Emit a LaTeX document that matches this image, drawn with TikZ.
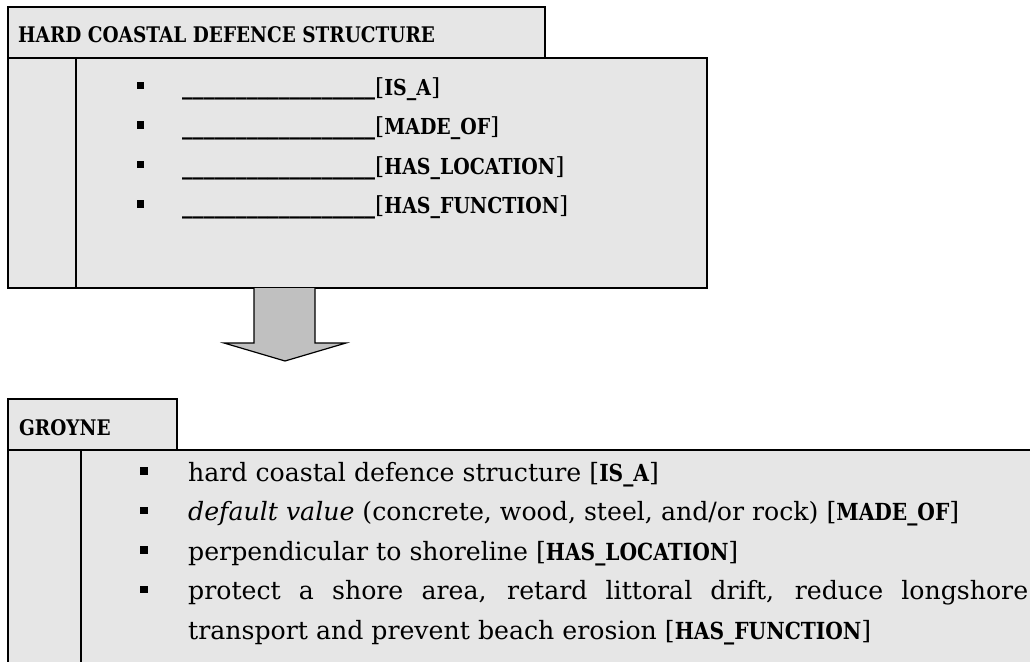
\documentclass[tikz,border=0pt]{standalone}
\usepackage{fontspec}
\setmainfont{DejaVu Serif}
% narrower bold face for headings and relation labels
\newfontfamily\lblfont{DejaVu Serif}[FakeStretch=0.86]
\usepackage{graphicx}
\usetikzlibrary{calc}
\definecolor{boxgray}{HTML}{E6E6E6}
\definecolor{arrowgray}{HTML}{C0C0C0}
% relation label in brackets; optional argument is the label size
\newcommand\rel[2][22]{[{\lblfont\bfseries\fontsize{#1}{39.5}\selectfont #2}]}
% a run of bold underscores stretched to the blank's width
\newcommand\blankrun{\resizebox*{193pt}{\totalheight}{\lblfont\bfseries\_\_\_\_\_\_\_\_\_\_\_\_\_\_\_\_\_\_}}
\begin{document}
\begin{tikzpicture}[x=1pt,y=-1pt,
  frame/.style={draw=black, line width=1.6pt, fill=boxgray, inner sep=0pt, outer sep=0pt, anchor=north west},
  divider/.style={draw=black, line width=1.6pt},
  headtext/.style={anchor=base west, inner sep=0pt, font=\lblfont\bfseries\fontsize{21.5}{24}\selectfont},
  toptext/.style={anchor=base west, inner sep=0pt, font=\fontsize{23.5}{39.5}\selectfont},
  rowtext/.style={anchor=base west, inner sep=0pt, font=\fontsize{25.2}{39.5}\selectfont},
  bul/.style={fill=black, inner sep=0pt, minimum size=7.5pt},
  arrowshape/.style={draw=black, line width=1.2pt, fill=arrowgray, line join=miter}
]
\useasboundingbox (0,0) rectangle (1030,661);
\clip (0,0) rectangle (1030,661);

% ---- upper frame: generic concept ----
\node[frame, minimum width=537pt, minimum height=51pt] (tophead) at (8,7) {};
\node[frame, minimum width=699pt, minimum height=230pt] (topbody) at (8,58) {};
\draw[divider] ($(topbody.north west)+(68,0)$) -- ($(topbody.south west)+(68,0)$);
\node[headtext] (hcds) at (18,43) {HARD COASTAL DEFENCE STRUCTURE};

\node[bul] (tb1) at (140.5,85.5) {};
\node[bul] (tb2) at (140.5,125) {};
\node[bul] (tb3) at (140.5,164.5) {};
\node[bul] (tb4) at (140.5,204) {};
\node[toptext] (tr1) at (182,95)    {\blankrun\rel{IS\_A}};
\node[toptext] (tr2) at (182,134.5) {\blankrun\rel{MADE\_OF}};
\node[toptext] (tr3) at (182,174)   {\blankrun\rel{HAS\_LOCATION}};
\node[toptext] (tr4) at (182,213.5) {\blankrun\rel{HAS\_FUNCTION}};

% ---- block arrow between the frames ----
\coordinate (arrL) at ($(topbody.south west)+(246,0)$);
\coordinate (arrR) at ($(topbody.south west)+(307,0)$);
\coordinate (arrtip) at (285,361);
\fill[arrowgray] (arrL) -- ++(0,55) -- ++(-30,0) -- (arrtip) -- ($(arrR)+(31,55)$) -- ($(arrR)+(0,55)$) -- (arrR) -- cycle;
\draw[arrowshape, fill=none] (arrL) -- ++(0,55) -- ++(-30,0) -- (arrtip) -- ($(arrR)+(31,55)$) -- ($(arrR)+(0,55)$) -- (arrR);

% ---- lower frame: specific concept ----
\node[frame, minimum width=169pt, minimum height=51pt] (grhead) at (8,399) {};
\node[frame, minimum width=1040pt, minimum height=260pt] (grbody) at (8,450) {};
\draw[divider] ($(grbody.north west)+(73,0)$) -- ($(grbody.south west)+(73,0)$);
\node[headtext] (groyne) at (19,435) {GROYNE};

\node[bul] (gb1) at (144,471) {};
\node[bul] (gb2) at (144,510.5) {};
\node[bul] (gb3) at (144,550) {};
\node[bul] (gb4) at (144,589.5) {};
\node[rowtext] (gr1) at (188,481)   {hard coastal defence structure \rel[23.5]{IS\_A}};
\node[rowtext] (gr2) at (188,520.5) {\textit{default value} (concrete, wood, steel, and/or rock) \rel[23.5]{MADE\_OF}};
\node[rowtext] (gr3) at (188,560)   {perpendicular to shoreline \rel[23.5]{HAS\_LOCATION}};
\node[rowtext, text width=840pt, align=justify] (gr4) at (188,599.5)
  {protect a shore area, retard littoral drift, reduce longshore\linebreak transport and prevent beach erosion \rel[23.5]{HAS\_FUNCTION}};
\end{tikzpicture}
\end{document}
